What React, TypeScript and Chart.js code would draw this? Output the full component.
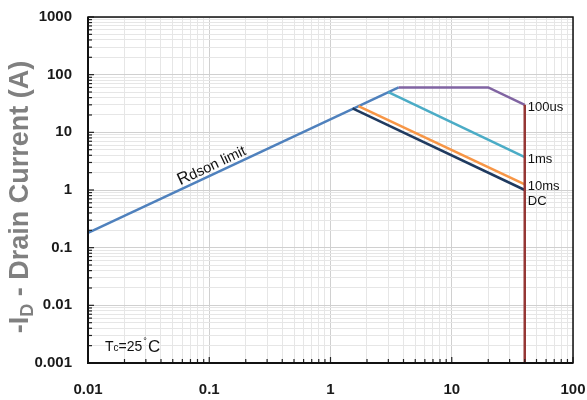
import React, { useEffect, useRef } from "react";
import { Chart, registerables } from "chart.js";
Chart.register(...registerables);

const xTickValues = [0.01, 0.1, 1, 10, 100];
const xTickLabels = ["0.01", "0.1", "1", "10", "100"];
const yTickValues = [0.001, 0.01, 0.1, 1, 10, 100, 1000];
const yTickLabels = ["0.001", "0.01", "0.1", "1", "10", "100", "1000"];

const rdsonX = [0.01, 3.65];
const rdsonY = [0.18, 60];
const us100X = [3.65, 20, 40];
const us100Y = [60, 60, 30];
const ms1X = [3.0, 40];
const ms1Y = [50, 3.7];
const ms10X = [1.7, 40];
const ms10Y = [28.5, 1.25];
const dcX = [1.52, 40];
const dcY = [26, 1.0];
const limitX = [40, 40];
const limitY = [30, 0.001];

const curveLabels = ["100us", "1ms", "10ms", "DC"];
const curveLabelY = [30, 3.7, 1.25, 1.0];
const curveLabelDy = [3, 2, 2, 11];
const rdsonLabelX = 0.112;

const FONT = "'Liberation Sans', Arial, sans-serif";

function pts(xs: number[], ys: number[]) {
  return xs.map((x, i) => ({ x, y: ys[i] }));
}

function minorTicks(min: number, max: number) {
  const out: { value: number }[] = [];
  const lo = Math.round(Math.log10(min));
  const hi = Math.round(Math.log10(max));
  for (let d = lo; d < hi; d++) {
    for (let m = 1; m <= 9; m++) out.push({ value: +(m * Math.pow(10, d)).toPrecision(6) });
  }
  out.push({ value: max });
  return out;
}

function isMajor(v: number) {
  const l = Math.log10(v);
  return Math.abs(l - Math.round(l)) < 1e-6;
}

function labelFor(v: number, vals: number[], labels: string[]) {
  for (let i = 0; i < vals.length; i++) {
    if (Math.abs(Math.log10(v) - Math.log10(vals[i])) < 1e-6) return labels[i];
  }
  return "";
}

const decorPlugin = {
  id: "decor",
  afterDraw(chart: any) {
    const { ctx, chartArea: a, scales } = chart;
    const xs = scales.x;
    const ys = scales.y;
    ctx.save();
    // inside ticks
    ctx.strokeStyle = "#222";
    ctx.lineWidth = 1.2;
    for (const t of xs.ticks) {
      const px = xs.getPixelForValue(t.value);
      const len = isMajor(t.value) ? 6 : 4;
      ctx.beginPath();
      ctx.moveTo(px, a.bottom);
      ctx.lineTo(px, a.bottom - len);
      ctx.stroke();
    }
    for (const t of ys.ticks) {
      const py = ys.getPixelForValue(t.value);
      const len = isMajor(t.value) ? 6 : 4;
      ctx.beginPath();
      ctx.moveTo(a.left, py);
      ctx.lineTo(a.left + len, py);
      ctx.stroke();
    }
    // frame
    ctx.strokeStyle = "#111";
    ctx.lineWidth = 1.5;
    ctx.strokeRect(a.left, a.top, a.right - a.left, a.bottom - a.top);
    ctx.lineWidth = 2;
    ctx.beginPath();
    ctx.moveTo(a.left, a.top);
    ctx.lineTo(a.left, a.bottom);
    ctx.lineTo(a.right, a.bottom);
    ctx.stroke();

    // curve labels
    ctx.fillStyle = "#111";
    ctx.font = `13px ${FONT}`;
    ctx.textBaseline = "middle";
    ctx.textAlign = "left";
    const lx = xs.getPixelForValue(limitX[0]) + 3;
    curveLabels.forEach((s, i) => {
      ctx.fillText(s, lx, ys.getPixelForValue(curveLabelY[i]) + curveLabelDy[i]);
    });

    // Rdson label
    const t = (Math.log10(rdsonLabelX) - Math.log10(rdsonX[0])) / (Math.log10(rdsonX[1]) - Math.log10(rdsonX[0]));
    const lv = Math.pow(10, Math.log10(rdsonY[0]) + t * (Math.log10(rdsonY[1]) - Math.log10(rdsonY[0])));
    const p0x = xs.getPixelForValue(rdsonX[0]);
    const p0y = ys.getPixelForValue(rdsonY[0]);
    const p1x = xs.getPixelForValue(rdsonX[1]);
    const p1y = ys.getPixelForValue(rdsonY[1]);
    const ang = Math.atan2(p1y - p0y, p1x - p0x);
    const ax = xs.getPixelForValue(rdsonLabelX);
    const ay = ys.getPixelForValue(lv);
    ctx.save();
    ctx.translate(ax, ay);
    ctx.rotate(ang);
    ctx.textBaseline = "alphabetic";
    ctx.font = `17px ${FONT}`;
    const wR = ctx.measureText("R").width;
    ctx.font = `14.5px ${FONT}`;
    const wRest = ctx.measureText("dson limit").width;
    const start = -(wR + wRest) / 2;
    ctx.font = `17px ${FONT}`;
    ctx.fillText("R", start, -4);
    ctx.font = `14.5px ${FONT}`;
    ctx.fillText("dson limit", start + wR, -4);
    ctx.restore();

    // Tc label
    ctx.textBaseline = "alphabetic";
    let tx = a.left + 17;
    const ty = a.bottom - 12;
    ctx.font = `14px ${FONT}`;
    ctx.fillText("T", tx, ty);
    tx += ctx.measureText("T").width;
    ctx.font = `10px ${FONT}`;
    ctx.fillText("c", tx, ty);
    tx += ctx.measureText("c").width;
    ctx.font = `14px ${FONT}`;
    ctx.fillText("=25", tx, ty);
    tx += ctx.measureText("=25").width + 1;
    ctx.font = `9px ${FONT}`;
    ctx.fillText("°", tx, ty - 7);
    tx += ctx.measureText("°").width + 1;
    ctx.font = `17px ${FONT}`;
    ctx.fillText("C", tx, ty + 1);

    // Y title
    ctx.save();
    ctx.translate(21, 197);
    ctx.rotate(-Math.PI / 2);
    ctx.fillStyle = "#808080";
    const big = `bold 27px ${FONT}`;
    const sub = `bold 18px ${FONT}`;
    ctx.font = big;
    const w1 = ctx.measureText("-I").width;
    ctx.font = sub;
    const w2 = ctx.measureText("D").width;
    ctx.font = big;
    const w3 = ctx.measureText(" - Drain Current (A)").width;
    let sx = -(w1 + w2 + w3) / 2;
    ctx.textBaseline = "middle";
    ctx.textAlign = "left";
    ctx.font = big;
    ctx.fillText("-I", sx, 0);
    sx += w1;
    ctx.font = sub;
    ctx.fillText("D", sx, 7);
    sx += w2;
    ctx.font = big;
    ctx.fillText(" - Drain Current (A)", sx, 0);
    ctx.restore();

    ctx.restore();
  },
};

export default function App() {
  const ref = useRef<HTMLCanvasElement | null>(null);
  useEffect(() => {
    document.body.style.margin = "0";
    const el = ref.current;
    if (!el) return;
    const line = (data: any, color: string, w = 2.5) => ({
      data,
      borderColor: color,
      backgroundColor: color,
      borderWidth: w,
      pointRadius: 0,
      showLine: true,
      fill: false,
      tension: 0,
    });
    const gridColor = (c: any) => (c.tick && isMajor(c.tick.value) ? "#d0d0d0" : "#e6e6e6");
    const chart = new Chart(el, {
      type: "scatter",
      data: {
        datasets: [
          line(pts(limitX, limitY), "#953735"),
          line(pts(ms1X, ms1Y), "#4BACC6"),
          line(pts(ms10X, ms10Y), "#F79646"),
          line(pts(dcX, dcY), "#1F3A5F"),
          line(pts(us100X, us100Y), "#8064A2"),
          line(pts(rdsonX, rdsonY), "#4F81BD"),
        ] as any,
      },
      options: {
        animation: false,
        responsive: false,
        maintainAspectRatio: false,
        layout: { padding: { top: 17, right: 14, left: 0, bottom: 0 } },
        plugins: { legend: { display: false }, tooltip: { enabled: false } },
        scales: {
          x: {
            type: "logarithmic",
            min: 0.01,
            max: 100,
            afterBuildTicks: (s: any) => {
              s.ticks = minorTicks(0.01, 100);
            },
            afterFit: (s: any) => {
              s.height = 37;
              s.paddingLeft = 0;
              s.paddingRight = 0;
              s.paddingTop = 0;
              s.paddingBottom = 0;
            },
            border: { display: false },
            grid: { drawTicks: false, color: gridColor, lineWidth: 1 },
            ticks: {
              autoSkip: false,
              maxRotation: 0,
              padding: 18,
              color: "#1a1a1a",
              font: { family: FONT, size: 15, weight: "bold" },
              callback: (v: any) => labelFor(Number(v), xTickValues, xTickLabels),
            },
          },
          y: {
            type: "logarithmic",
            min: 0.001,
            max: 1000,
            afterBuildTicks: (s: any) => {
              s.ticks = minorTicks(0.001, 1000);
            },
            afterFit: (s: any) => {
              s.width = 88;
              s.paddingLeft = 0;
              s.paddingRight = 0;
              s.paddingTop = 0;
              s.paddingBottom = 0;
            },
            border: { display: false },
            grid: { drawTicks: false, color: gridColor, lineWidth: 1 },
            ticks: {
              autoSkip: false,
              padding: 16,
              color: "#1a1a1a",
              font: { family: FONT, size: 15, weight: "bold" },
              callback: (v: any) => labelFor(Number(v), yTickValues, yTickLabels),
            },
          },
        },
      } as any,
      plugins: [decorPlugin],
    });
    return () => chart.destroy();
  }, []);
  return (
    <div style={{ width: 587, height: 400, background: "#fff" }}>
      <canvas ref={ref} width={587} height={400} style={{ display: "block", width: 587, height: 400 }} />
    </div>
  );
}
